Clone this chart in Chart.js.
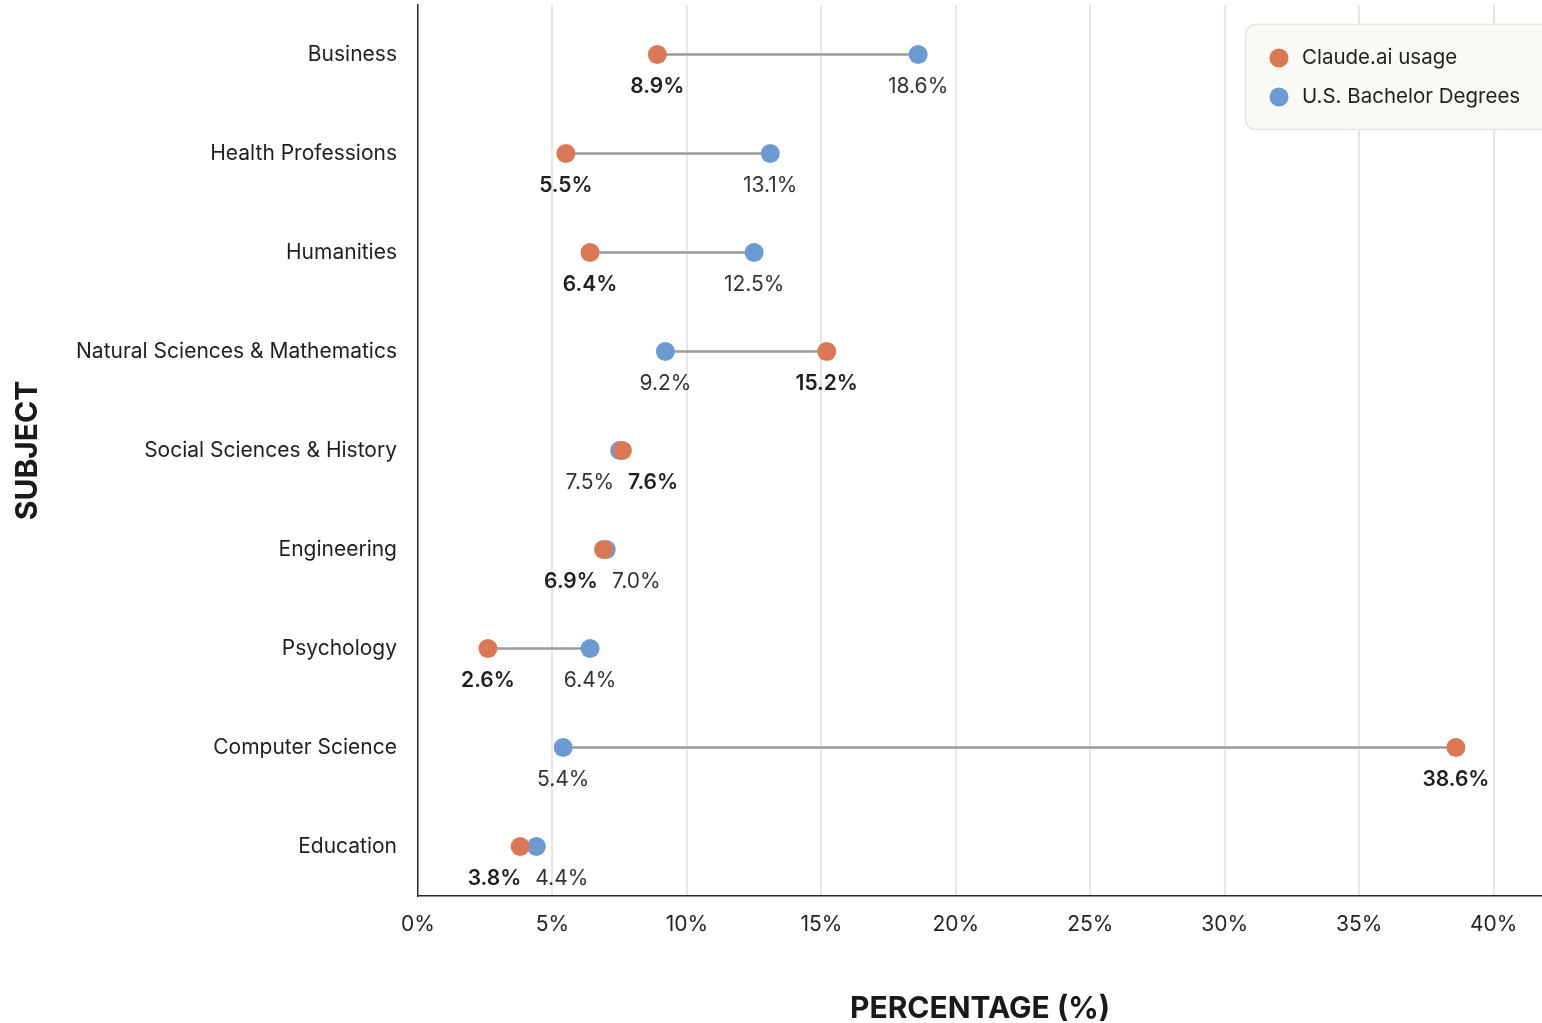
<!DOCTYPE html>
<html>
<head>
<meta charset="utf-8">
<script src="https://cdn.jsdelivr.net/npm/chart.js@4.4.1/dist/chart.umd.min.js"></script>
<style>
  html, body { margin: 0; padding: 0; background: #ffffff; }
  #wrap { width: 1542px; height: 1023px; position: relative; }
</style>
</head>
<body>
<div id="wrap"><canvas id="chart"></canvas></div>
<script>
// ── data ──
const subjects = [
  'Business', 'Health Professions', 'Humanities', 'Natural Sciences & Mathematics',
  'Social Sciences & History', 'Engineering', 'Psychology', 'Computer Science', 'Education'
];
const claudeUsage     = [8.9, 5.5, 6.4, 15.2, 7.6, 6.9, 2.6, 38.6, 3.8];
const bachelorDegrees = [18.6, 13.1, 12.5, 9.2, 7.5, 7.0, 6.4, 5.4, 4.4];
const xTicks          = [0, 5, 10, 15, 20, 25, 30, 35, 40];

const ORANGE = '#DA7855';
const BLUE   = '#6B9BD2';
const FONT   = 'Inter, "Noto Sans", sans-serif';

// connector bars span between the two values
const spans = subjects.map((_, i) => [
  Math.min(claudeUsage[i], bachelorDegrees[i]),
  Math.max(claudeUsage[i], bachelorDegrees[i])
]);

// value labels under each dot
const valueLabels = {
  id: 'valueLabels',
  afterDatasetsDraw(chart) {
    const ctx = chart.ctx;
    const mc = chart.getDatasetMeta(0);
    const mb = chart.getDatasetMeta(1);
    ctx.save();
    ctx.textBaseline = 'middle';
    subjects.forEach((_, i) => {
      const pc = mc.data[i], pb = mb.data[i];
      const y = pc.y + 32;
      const items = [
        { x: pc.x, v: claudeUsage[i],     bold: true },
        { x: pb.x, v: bachelorDegrees[i], bold: false }
      ];
      if (Math.abs(pc.x - pb.x) < 45) {
        const mid = (pc.x + pb.x) / 2;
        items.sort((a, b) => a.v - b.v);
        items[0].align = 'right'; items[0].x = mid - 7;
        items[1].align = 'left';  items[1].x = mid + 7;
      } else {
        items.forEach(it => { it.align = 'center'; });
      }
      items.forEach(it => {
        ctx.font = (it.bold ? '600 ' : '400 ') + '21px ' + FONT;
        ctx.fillStyle = it.bold ? '#1f1f1f' : '#333333';
        ctx.textAlign = it.align;
        ctx.fillText(it.v.toFixed(1) + '%', it.x, y);
      });
    });
    ctx.restore();
  }
};

// legend box in the top-right corner
const boxLegend = {
  id: 'boxLegend',
  afterDraw(chart) {
    const ctx = chart.ctx;
    ctx.save();
    ctx.beginPath();
    ctx.roundRect(1245.5, 24.5, 320, 105, 10);
    ctx.fillStyle = '#FAF9F6';
    ctx.fill();
    ctx.strokeStyle = '#E6E4DC';
    ctx.lineWidth = 1.5;
    ctx.stroke();
    const rows = [chart.data.datasets[0], chart.data.datasets[1]];
    rows.forEach((ds, k) => {
      const y = 58 + k * 39;
      ctx.beginPath();
      ctx.arc(1279, y, 9.5, 0, Math.PI * 2);
      ctx.fillStyle = ds.backgroundColor;
      ctx.fill();
      ctx.font = '400 20.5px ' + FONT;
      ctx.fillStyle = '#1f1f1f';
      ctx.textAlign = 'left';
      ctx.textBaseline = 'middle';
      ctx.fillText(ds.label, 1302, y);
    });
    ctx.restore();
  }
};

new Chart(document.getElementById('chart'), {
  type: 'bar',
  data: {
    labels: subjects,
    datasets: [
      {
        type: 'line', label: 'Claude.ai usage', data: claudeUsage, indexAxis: 'y',
        showLine: false, backgroundColor: ORANGE, borderColor: ORANGE,
        pointRadius: 9.5, pointHoverRadius: 9.5, pointBorderWidth: 0, order: 1
      },
      {
        type: 'line', label: 'U.S. Bachelor Degrees', data: bachelorDegrees, indexAxis: 'y',
        showLine: false, backgroundColor: BLUE, borderColor: BLUE,
        pointRadius: 9.5, pointHoverRadius: 9.5, pointBorderWidth: 0, order: 2
      },
      {
        type: 'bar', label: 'span', data: spans, indexAxis: 'y',
        backgroundColor: '#9B9B9B', barThickness: 2, borderSkipped: false, order: 3
      }
    ]
  },
  options: {
    indexAxis: 'y',
    responsive: true,
    maintainAspectRatio: false,
    animation: false,
    devicePixelRatio: 1,
    layout: { autoPadding: false, padding: { top: 5, right: 0, left: 0, bottom: 0 } },
    plugins: { legend: { display: false }, tooltip: { enabled: false } },
    scales: {
      x: {
        type: 'linear', min: 0, max: 41.8,
        afterBuildTicks: s => { s.ticks = xTicks.map(v => ({ value: v })); },
        afterFit: s => { s.height = 127; s.paddingLeft = 0; s.paddingRight = 0; },
        ticks: {
          callback: v => v + '%', color: '#222', padding: 16,
          font: { family: FONT, size: 21 }, maxRotation: 0
        },
        grid: {
          drawTicks: false, lineWidth: 2,
          color: c => (c.tick && c.tick.value === 0) ? 'rgba(0,0,0,0)' : '#E9E7DD'
        },
        border: { color: '#2a2a2a', width: 1.5 },
        title: {
          display: true, text: 'PERCENTAGE (%)', color: '#1a1a1a',
          font: { family: FONT, size: 30, weight: '700' }, padding: { top: 0, bottom: -4 }
        }
      },
      y: {
        type: 'category', offset: true,
        afterFit: s => { s.width = 418; s.paddingTop = 0; s.paddingBottom = 0; },
        ticks: { color: '#1f1f1f', padding: 21, font: { family: FONT, size: 21 } },
        grid: { display: false, drawTicks: false },
        border: { color: '#2a2a2a', width: 1.5 },
        title: {
          display: true, text: 'SUBJECT', color: '#1a1a1a',
          font: { family: FONT, size: 30, weight: '700' }, padding: { top: 10, bottom: 0 }
        }
      }
    }
  },
  plugins: [valueLabels, boxLegend]
});
</script>
</body>
</html>
